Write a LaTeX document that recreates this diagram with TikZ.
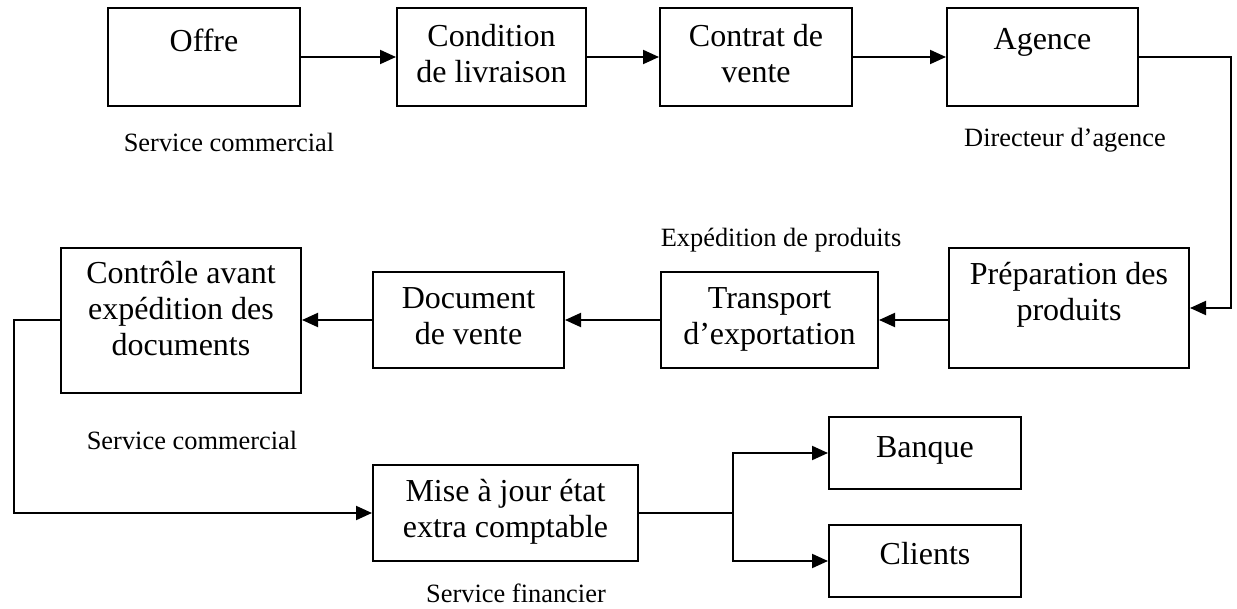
\documentclass[tikz,border=0pt]{standalone}
\usepackage{fontspec}
\setmainfont{Liberation Serif}
\usetikzlibrary{arrows.meta,fit}
\begin{document}
\begin{tikzpicture}[x=0.5pt,y=-0.5pt,
  box/.style={draw,line width=1pt,inner sep=0pt},
  btxt/.style={align=center,font=\fontsize{16}{18}\selectfont,inner sep=0pt,anchor=north,execute at begin node=\strut},
  lbl/.style={font=\fontsize{13.2}{15}\selectfont,inner sep=0pt,anchor=base},
  link/.style={line width=1pt},
  arr/.style={link,-{Triangle[length=8pt,width=7pt]}}]
\useasboundingbox (0,0) rectangle (1237,609);

% first row
\node[box,fit={(108,8)(300,106)}] (offre) {};
\node[box,fit={(397,8)(586,106)}] (cond) {};
\node[box,fit={(660,8)(852,106)}] (contrat) {};
\node[box,fit={(947,8)(1138,106)}] (agence) {};
% second row
\node[box,fit={(949,248)(1189,368)}] (prep) {};
\node[box,fit={(661,272)(878,368)}] (transp) {};
\node[box,fit={(373,272)(564,368)}] (docv) {};
\node[box,fit={(61,248)(301,393)}] (ctrl) {};
% third row
\node[box,fit={(373,465)(638,561)}] (mise) {};
\node[box,fit={(829,417)(1021,489)}] (banque) {};
\node[box,fit={(829,525)(1021,597)}] (clients) {};

% box texts
\node[btxt] (offre-t) at ([yshift=-9.5pt]offre.north) {Offre};
\node[btxt] (cond-t) at ([yshift=-8.5pt]cond.north) {Condition\\de livraison};
\node[btxt] (contrat-t) at ([yshift=-8.5pt]contrat.north) {Contrat de\\vente};
\node[btxt] (agence-t) at ([yshift=-8.5pt]agence.north) {Agence};
\node[btxt] (prep-t) at ([yshift=-7.5pt]prep.north) {Préparation des\\produits};
\node[btxt] (transp-t) at ([yshift=-8pt]transp.north) {Transport\\d’exportation};
\node[btxt] (docv-t) at ([yshift=-8pt]docv.north) {Document\\de vente};
\node[btxt] (ctrl-t) at ([yshift=-7pt]ctrl.north) {Contrôle avant\\expédition des\\documents};
\node[btxt] (mise-t) at ([yshift=-7.5pt]mise.north) {Mise à jour état\\extra comptable};
\node[btxt] (banque-t) at ([yshift=-8pt]banque.north) {Banque};
\node[btxt] (clients-t) at ([yshift=-7.5pt]clients.north) {Clients};

% department labels
\node[lbl] (svc1) at (229,152) {Service commercial};
\node[lbl] (dir) at (1065,147) {Directeur d’agence};
\node[lbl] (exp) at (781,247) {Expédition de produits};
\node[lbl] (svc2) at (192,449) {Service commercial};
\node[lbl] (fin) at (516,602) {Service financier};

% routing columns
\coordinate (rx) at (1231,0);
\coordinate (lx) at (14,0);
\coordinate (sx) at (733,0);

% connectors
\draw[arr] (offre) -- (cond);
\draw[arr] (cond) -- (contrat);
\draw[arr] (contrat) -- (agence);
\draw[arr] (agence.east) -| (rx |- prep.east) -- (prep.east);
\draw[arr] (prep.west |- transp.east) -- (transp.east);
\draw[arr] (transp) -- (docv);
\draw[arr] (docv.west) -- (ctrl.east |- docv.west);
\draw[arr] (ctrl.west |- docv.west) -| (lx |- mise.west) -- (mise.west);
\draw[link] (mise.east) -- (sx |- mise.east);
\draw[arr] (sx |- mise.east) |- (banque.west);
\draw[arr] (sx |- mise.east) |- (clients.west);
\end{tikzpicture}
\end{document}
